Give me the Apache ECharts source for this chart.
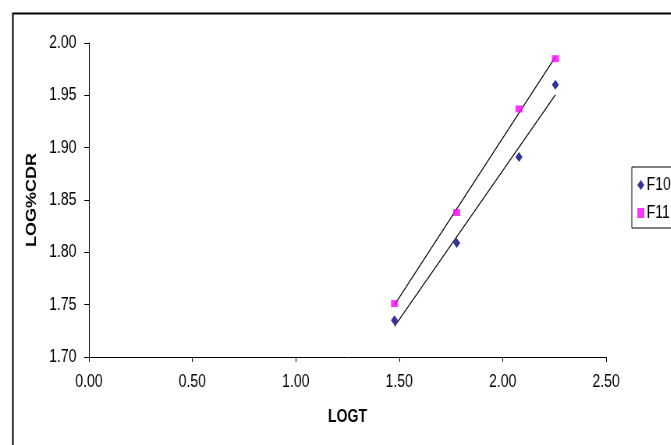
<!DOCTYPE html>
<html>
<head>
<meta charset="utf-8">
<script src="https://cdn.jsdelivr.net/npm/echarts@6/dist/echarts.min.js"></script>
<style>
html,body{margin:0;padding:0;background:#fff;overflow:hidden;}
#wrap{width:671px;height:445px;overflow:hidden;position:relative;}
#c{width:860px;height:445px;transform:scaleX(0.78);transform-origin:0 0;position:absolute;left:0;top:0;}
</style>
</head>
<body>
<div id="wrap"><div id="c"></div></div>
<script>
const logT = [1.477, 1.778, 2.079, 2.255];
const f10 = [1.735, 1.809, 1.891, 1.960];
const f11 = [1.751, 1.838, 1.937, 1.985];
const xTicks = [0, 0.5, 1.0, 1.5, 2.0, 2.5];
const yTicks = [1.70, 1.75, 1.80, 1.85, 1.90, 1.95, 2.00];

function pairs(xs, ys){ return xs.map((x,i)=>[x, ys[i]]); }
function fit(xs, ys){
  const n = xs.length;
  const mx = xs.reduce((a,b)=>a+b,0)/n, my = ys.reduce((a,b)=>a+b,0)/n;
  let sxy=0, sxx=0;
  for(let i=0;i<n;i++){ sxy+=(xs[i]-mx)*(ys[i]-my); sxx+=(xs[i]-mx)*(xs[i]-mx); }
  const b = sxy/sxx, a = my - b*mx;
  const x0 = Math.min(...xs), x1 = Math.max(...xs);
  return [[x0, a+b*x0],[x1, a+b*x1]];
}

const chart = echarts.init(document.getElementById('c'), null, {renderer:'canvas'});
const font = 'Liberation Sans, Arial, sans-serif';
chart.setOption({
  animation:false,
  backgroundColor:'#fff',
  graphic:[{
    type:'rect', left:14, top:11, shape:{x:0,y:0,width:1000,height:500},
    style:{fill:'none', stroke:'#000', lineWidth:2}, silent:true, z:-1
  }],
  grid:{left:114, right:83, top:43, bottom:88, containLabel:false},
  legend:{
    orient:'vertical', left:810, top:167,
    data:[{name:'F10', icon:'diamond'},{name:'F11', icon:'rect'}],
    itemWidth:9, itemHeight:10, itemGap:10,
    padding:[9,40,6,7],
    borderColor:'#000', borderWidth:1, borderRadius:0,
    textStyle:{fontFamily:font, fontSize:18, color:'#000', padding:[0,0,0,-2]}
  },
  xAxis:{
    type:'value', min:0, max:2.5, interval:0.5,
    name:'LOGT', nameLocation:'middle', nameGap:51,
    nameTextStyle:{fontFamily:font, fontSize:18, fontWeight:'bold', color:'#000'},
    axisLine:{show:true, onZero:false, lineStyle:{color:'#000', width:1}},
    axisTick:{show:true, length:5, lineStyle:{color:'#000'}},
    axisLabel:{fontFamily:font, fontSize:18, color:'#000', margin:16,
      formatter:v=>v.toFixed(2)},
    splitLine:{show:false}
  },
  yAxis:{
    type:'value', min:1.70, max:2.00, interval:0.05,
    name:'LOG%CDR', nameLocation:'middle', nameGap:64, nameRotate:90,
    nameTextStyle:{fontFamily:font, fontSize:18, fontWeight:'bold', color:'#000'},
    axisLine:{show:true, lineStyle:{color:'#000', width:1}},
    axisTick:{show:true, length:6, lineStyle:{color:'#000'}},
    axisLabel:{fontFamily:font, fontSize:18, color:'#000', margin:16,
      formatter:v=>v.toFixed(2)},
    splitLine:{show:false}
  },
  series:[
    {name:'F10 trend', type:'line', data:fit(logT,f10), showSymbol:false, silent:true,
     lineStyle:{color:'#000', width:1.2}, z:1},
    {name:'F11 trend', type:'line', data:fit(logT,f11), showSymbol:false, silent:true,
     lineStyle:{color:'#000', width:1.2}, z:1},
    {name:'F10', type:'scatter', data:pairs(logT,f10), symbol:'diamond', symbolSize:[9,10],
     itemStyle:{color:'#000080'}, z:3},
    {name:'F11', type:'scatter', data:pairs(logT,f11), symbol:'rect', symbolSize:[9,7],
     itemStyle:{color:'#FF00FF'}, z:3}
  ]
});
</script>
</body>
</html>
